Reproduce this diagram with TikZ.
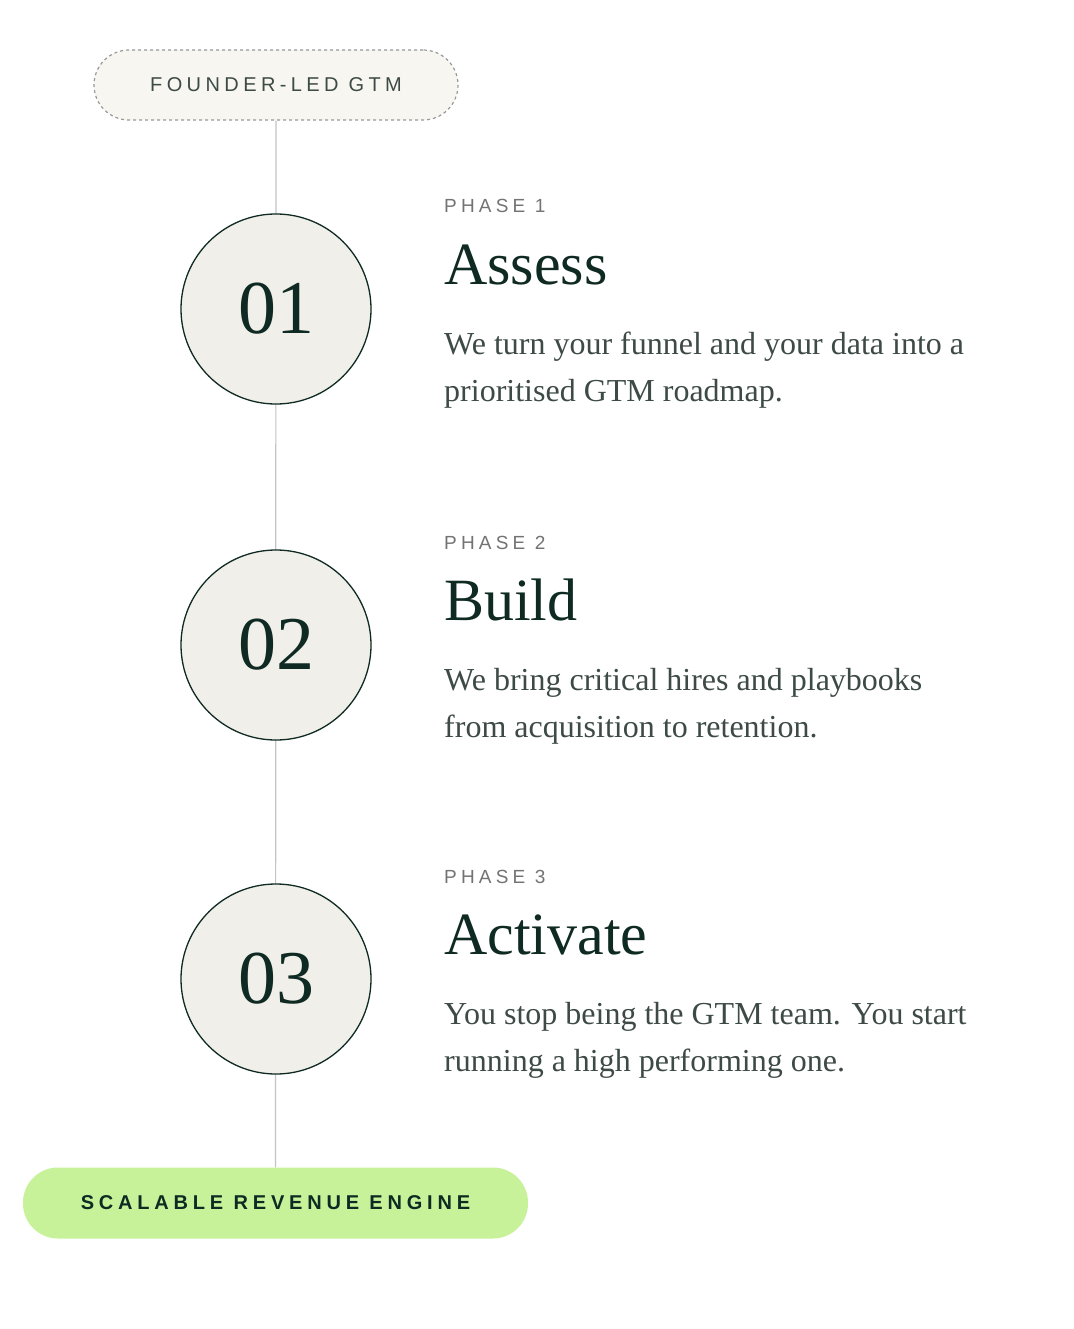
\documentclass[tikz,border=0pt]{standalone}
\usepackage{fontspec}
\setmainfont{Liberation Serif}
\setsansfont{Liberation Sans}
\usetikzlibrary{positioning}
\definecolor{inkgreen}{HTML}{0F2A22}
\definecolor{bodygray}{HTML}{3D4A45}
\definecolor{tagcream}{HTML}{F7F6F1}
\definecolor{discgray}{HTML}{F0EFEA}
\definecolor{limegreen}{HTML}{C8F29A}
\definecolor{spine}{HTML}{C4C4C4}

\begin{document}
\begin{tikzpicture}[x=1pt,y=-1pt,
disc/.style={circle, draw=inkgreen, line width=1.3pt, fill=discgray, minimum size=190pt, inner sep=0pt,
  font=\fontsize{76}{76}\selectfont, text=inkgreen},
phase/.style={anchor=base west, inner sep=0pt, text=gray!90!black,
  font=\sffamily\fontsize{19}{19}\selectfont\addfontfeature{LetterSpace=22}},
title/.style={anchor=base west, inner sep=0pt, text=inkgreen, font=\fontsize{60}{60}\selectfont},
blurb/.style={anchor=north west, inner sep=0pt, text=bodygray, align=left,
  font=\fontsize{32}{47}\selectfont},
tag/.style={rounded corners=35pt, minimum height=70pt, inner sep=0pt}]

%% page
\useasboundingbox[fill=white] (0,0) rectangle (1073,1329);

%% start and end tags
\node[tag, draw=gray!80, dashed, line width=1.2pt, fill=tagcream, minimum width=364pt,
  text=bodygray, font=\sffamily\fontsize{20}{20}\selectfont\addfontfeature{LetterSpace=22}]
  (start) at (276,85) {FOUNDER-LED GTM};
\node[tag, fill=limegreen, minimum width=505pt, minimum height=71pt, text=inkgreen,
  font=\sffamily\bfseries\fontsize{20}{20}\selectfont\addfontfeature{LetterSpace=24}]
  (finish) at (275.5,1203) {SCALABLE REVENUE ENGINE};

%% spine
\draw[spine, line width=1.2pt] (start.south) -- (finish.north);

%% phases
\foreach \n/\y/\name/\lineA/\lineB in {
  1/309/Assess/{We turn your funnel and your data into a}/{prioritised GTM roadmap.},
  2/645/Build/{We bring critical hires and playbooks}/{from acquisition to retention.},
  3/979/Activate/{You stop being the GTM team. You start}/{running a high performing one.}}
{
  \node[disc] (D-\n) at (276,\y) {0\n};
  \node[phase] (P-\n) at (444,\y-96) {PHASE \n};
  \node[title] (T-\n) at (444,\y-25) {\name};
  \node[blurb] (B-\n) at (444,\y+23) {\lineA\\\lineB};
}
\end{tikzpicture}
\end{document}
